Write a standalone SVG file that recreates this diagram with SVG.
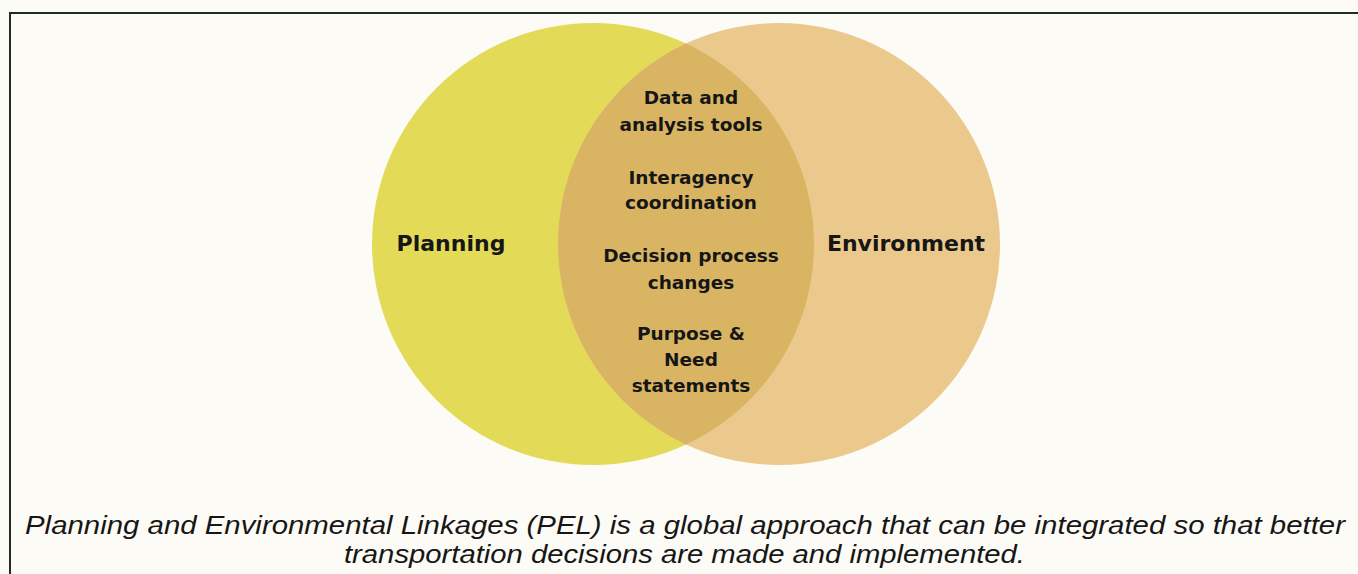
<svg xmlns="http://www.w3.org/2000/svg" width="1358" height="574" viewBox="0 0 1358 574">
  <defs>
    <style>
      .lbl { font-family: "DejaVu Sans", "Liberation Sans", sans-serif; font-weight: bold; fill: #161616; text-anchor: middle; }
      .big { font-size: 22px; }
      .mid { font-size: 18.5px; }
      .cap { font-family: "Liberation Sans", Arial, sans-serif; font-style: italic; font-size: 26px; fill: #161616; }
    </style>
    <clipPath id="clipYellow">
      <circle cx="593" cy="244" r="221"/>
    </clipPath>
  </defs>
  <rect x="0" y="0" width="1358" height="574" fill="#fcfbf6"/>
  <path d="M10 580 L10 13 L1365 13" fill="none" stroke="#1f2a2a" stroke-width="2"/>

  <g id="planning">
    <circle cx="593" cy="244" r="221" fill="#e3da58"/>
    <text class="lbl big" x="451" y="251">Planning</text>
  </g>
  <g id="environment">
    <circle cx="779" cy="244" r="221" fill="#ebc98c"/>
    <circle cx="779" cy="244" r="221" fill="#d9b563" clip-path="url(#clipYellow)"/>
    <text class="lbl big" x="906" y="251">Environment</text>
  </g>
  <g id="overlap">
    <text class="lbl mid" x="691" y="104">Data and</text>
    <text class="lbl mid" x="691" y="131">analysis tools</text>
    <text class="lbl mid" x="691" y="184">Interagency</text>
    <text class="lbl mid" x="691" y="209">coordination</text>
    <text class="lbl mid" x="691" y="262">Decision process</text>
    <text class="lbl mid" x="691" y="289">changes</text>
    <text class="lbl mid" x="691" y="340">Purpose &amp;</text>
    <text class="lbl mid" x="691" y="366">Need</text>
    <text class="lbl mid" x="691" y="392">statements</text>
  </g>
  <g id="connectors"/>
  <g id="caption">
    <text class="cap" x="25" y="534" textLength="1320" lengthAdjust="spacingAndGlyphs">Planning and Environmental Linkages (PEL) is a global approach that can be integrated so that better</text>
    <text class="cap" x="344" y="563" textLength="681" lengthAdjust="spacingAndGlyphs">transportation decisions are made and implemented.</text>
  </g>
</svg>
